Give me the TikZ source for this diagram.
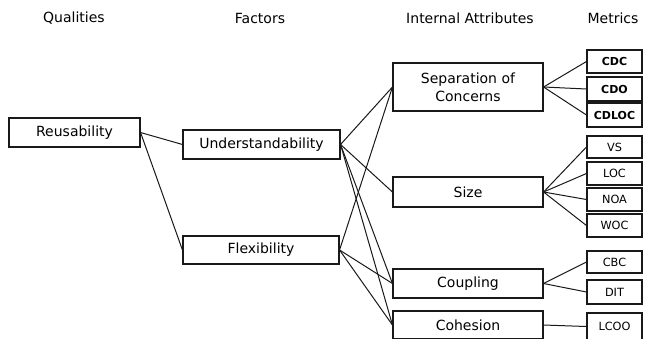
\documentclass[tikz,border=0pt]{standalone}
\usepackage{fontspec}
\setmainfont{DejaVu Sans}
\begin{document}
\begin{tikzpicture}[x=1pt,y=-1pt,
  box/.style={draw=black!90, line width=1.1pt, inner sep=0pt, align=center,
    font=\fontsize{14}{18}\selectfont, text=black},
  mbox/.style={draw=black!90, line width=1.1pt, inner sep=0pt, minimum width=55pt,
    font=\fontsize{11.3}{13}\selectfont, text=black},
  mboxb/.style={mbox, font=\fontsize{11}{13}\bfseries},
  hdr/.style={inner sep=0pt, font=\fontsize{14}{16}\selectfont, text=black},
  link/.style={draw=black!90, line width=1pt}
]
\useasboundingbox (0,0) rectangle (647,338);
% headers
\node[hdr] (hq) at (74,18) {Qualities};
\node[hdr] (hf) at (260,18) {Factors};
\node[hdr] (hi) at (470,18) {Internal Attributes};
\node[hdr] (hm) at (613,18) {Metrics};
% qualities / factors
\node[box, minimum width=131pt, minimum height=29pt] (reu) at (74.5,132.5) {Reusability};
\node[box, minimum width=157pt, minimum height=29pt] (und) at (261.5,144.5) {Understandability};
\node[box, minimum width=156pt, minimum height=28pt] (flex) at (261,250) {Flexibility};
% internal attributes
\node[box, minimum width=150pt, minimum height=48pt] (soc) at (468,87) {Separation of\\Concerns};
\node[box, minimum width=150pt, minimum height=30pt] (size) at (468,192) {Size};
\node[box, minimum width=150pt, minimum height=29pt] (coup) at (468,283.5) {Coupling};
\node[box, minimum width=150pt, minimum height=28pt] (coh) at (468,325) {Cohesion};
% metrics
\node[mboxb, minimum height=23pt] (cdc) at (614.5,61.5) {CDC};
\node[mboxb, minimum height=24pt] (cdo) at (614.5,89) {CDO};
\node[mboxb, minimum height=24pt] (cdloc) at (614.5,115) {CDLOC};
\node[mbox, minimum height=22pt] (vs) at (614.5,147) {VS};
\node[mbox, minimum height=23pt] (loc) at (614.5,173.5) {LOC};
\node[mbox, minimum height=23pt] (noa) at (614.5,199.5) {NOA};
\node[mbox, minimum height=23pt] (woc) at (614.5,225.5) {WOC};
\node[mbox, minimum height=22pt] (cbc) at (614.5,262) {CBC};
\node[mbox, minimum height=24pt] (dit) at (614.5,292) {DIT};
\node[mbox, minimum height=27pt] (lcoo) at (614.5,326.5) {LCOO};
% connectors
\draw[link] (reu.east) -- (und.west);
\draw[link] (reu.east) -- (flex.west);
\draw[link] (und.east) -- (soc.west);
\draw[link] (und.east) -- (size.west);
\draw[link] (und.east) -- (coup.west);
\draw[link] (und.east) -- (coh.west);
\draw[link] (flex.east) -- (soc.west);
\draw[link] (flex.east) -- (coup.west);
\draw[link] (flex.east) -- (coh.west);
\draw[link] (soc.east) -- (cdc.west);
\draw[link] (soc.east) -- (cdo.west);
\draw[link] (soc.east) -- (cdloc.west);
\draw[link] (size.east) -- (vs.west);
\draw[link] (size.east) -- (loc.west);
\draw[link] (size.east) -- (noa.west);
\draw[link] (size.east) -- (woc.west);
\draw[link] (coup.east) -- (cbc.west);
\draw[link] (coup.east) -- (dit.west);
\draw[link] (coh.east) -- (lcoo.west);
\end{tikzpicture}
\end{document}
